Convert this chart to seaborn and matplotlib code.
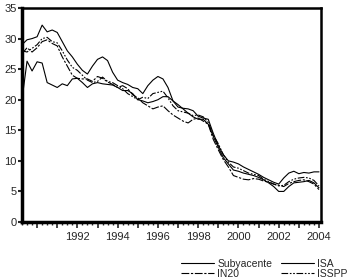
import numpy as np
import pandas as pd
import matplotlib
matplotlib.use("Agg")
import matplotlib.pyplot as plt
import seaborn as sns
from matplotlib.ticker import MultipleLocator, FuncFormatter

years = [1989.25 + 0.25 * i for i in range(60)]

isa = [29.0, 29.8, 30.0, 30.3, 32.2, 31.1, 31.4, 31.0, 29.5, 28.0, 27.0, 25.8,
       24.8, 24.2, 25.5, 26.6, 27.0, 26.4, 24.5, 23.2, 22.8, 22.5, 22.0, 21.8,
       21.0, 22.3, 23.2, 23.8, 23.4, 22.0, 19.8, 18.8, 18.6, 18.5, 18.2, 17.3,
       17.0, 16.8, 14.5, 12.5, 11.0, 10.0, 9.8, 9.5, 9.0, 8.6, 8.2, 7.8,
       7.3, 6.9, 6.5, 6.2, 7.2, 8.0, 8.3, 7.9, 8.1, 8.0, 8.2, 8.2]

subyacente = [20.0, 26.3, 24.7, 26.2, 26.0, 22.8, 22.4, 22.0, 22.6, 22.3, 23.4, 23.5,
              22.8, 22.0, 22.6, 22.8, 22.6, 22.5, 22.4, 22.0, 21.5, 21.5, 21.0, 20.0,
              19.8, 19.5, 19.7, 20.0, 20.5, 20.5, 19.8, 19.2, 18.5, 17.8, 17.2, 16.8,
              16.8, 16.0, 14.0, 12.2, 10.5, 9.5, 8.5, 8.3, 8.0, 7.8, 7.6, 7.3,
              6.9, 6.4, 5.8, 5.0, 5.0, 5.8, 6.4, 6.5, 6.6, 6.8, 6.4, 5.6]

in20 = [27.5, 28.5, 27.8, 28.5, 29.5, 29.8, 29.2, 28.8, 27.0, 25.5, 24.0, 23.5,
        23.4, 23.4, 23.0, 23.8, 23.5, 22.9, 22.5, 22.0, 22.3, 21.8, 20.8, 20.3,
        19.5, 19.0, 18.5, 18.8, 19.0, 18.2, 17.5, 17.0, 16.5, 16.2, 16.8, 17.0,
        16.5, 16.0, 13.5, 11.8, 10.2, 9.0, 7.6, 7.3, 7.0, 6.9, 7.1, 7.0,
        6.7, 6.5, 6.2, 6.0, 5.8, 6.3, 6.6, 6.8, 6.9, 6.6, 6.2, 5.3]

isspp = [28.0, 27.8, 28.4, 29.0, 30.0, 30.2, 29.5, 29.3, 28.0, 26.5, 25.3, 24.8,
         24.0, 23.2, 22.8, 23.0, 23.7, 23.0, 22.8, 22.3, 21.8, 21.0, 20.5, 20.0,
         20.4, 20.2, 21.0, 21.2, 21.4, 20.3, 19.0, 18.2, 18.0, 17.8, 17.4, 17.5,
         17.2, 16.3, 14.2, 12.8, 11.0, 9.8, 9.0, 8.8, 8.4, 8.0, 7.8, 7.6,
         7.0, 6.6, 6.2, 5.9, 6.0, 6.6, 7.0, 7.2, 7.3, 7.2, 6.8, 5.9]

tick_labels = ["1992", "1994", "1996", "1998", "2000", "2002", "2004"]

names = ["Subyacente", "IN20", "ISA", "ISSPP"]
values = [subyacente, in20, isa, isspp]
styles = ["-", (0, (7, 1.5, 2, 1.5)), "-", (0, (6, 1.5, 1.5, 1.5, 1.5, 1.5))]

sns.set_style("white")
plt.rcParams["font.family"] = ["Liberation Sans", "DejaVu Sans"]

fig = plt.figure(figsize=(3.47, 2.80), dpi=100)
ax = fig.add_axes([22 / 347, 58 / 280, 299 / 347, 214 / 280])

for name, vals, ls in zip(names, values, styles):
    df = pd.DataFrame({"t": years, "v": vals})
    sns.lineplot(data=df, x="t", y="v", ax=ax, color="black", linewidth=0.8,
                 linestyle=ls, label=name, legend=False)

ax.set_xlim(1989.25, 2004.1)
ax.set_ylim(0, 35)
ax.set_xlabel("")
ax.set_ylabel("")

ax.yaxis.set_major_locator(MultipleLocator(5))
ax.xaxis.set_major_locator(MultipleLocator(1))
ax.xaxis.set_minor_locator(MultipleLocator(0.25))
ax.xaxis.set_major_formatter(
    FuncFormatter(lambda v, p: str(int(round(v))) if str(int(round(v))) in tick_labels else ""))

for side in ["left", "bottom"]:
    ax.spines[side].set_linewidth(2.5)
for side in ["top", "right"]:
    ax.spines[side].set_linewidth(1.8)
for s in ax.spines.values():
    s.set_color("black")

ax.tick_params(axis="y", which="major", direction="out", length=3, width=1.5,
               labelsize=8, pad=1, left=True)
ax.tick_params(axis="x", which="major", direction="out", length=4, width=1.2,
               labelsize=8, pad=3, bottom=True)
ax.tick_params(axis="x", which="minor", direction="out", length=2.5, width=1.0,
               bottom=True)

handles = ax.get_lines()
leg = fig.legend(handles, names, loc="lower left", bbox_to_anchor=(181 / 347, 1 / 280),
                 ncol=2, frameon=False, fontsize=7.5, handlelength=3.2,
                 handletextpad=0.3, columnspacing=0.8, labelspacing=0.0,
                 borderaxespad=0.0, borderpad=0.0)

fig.savefig("out.png", dpi=100)
